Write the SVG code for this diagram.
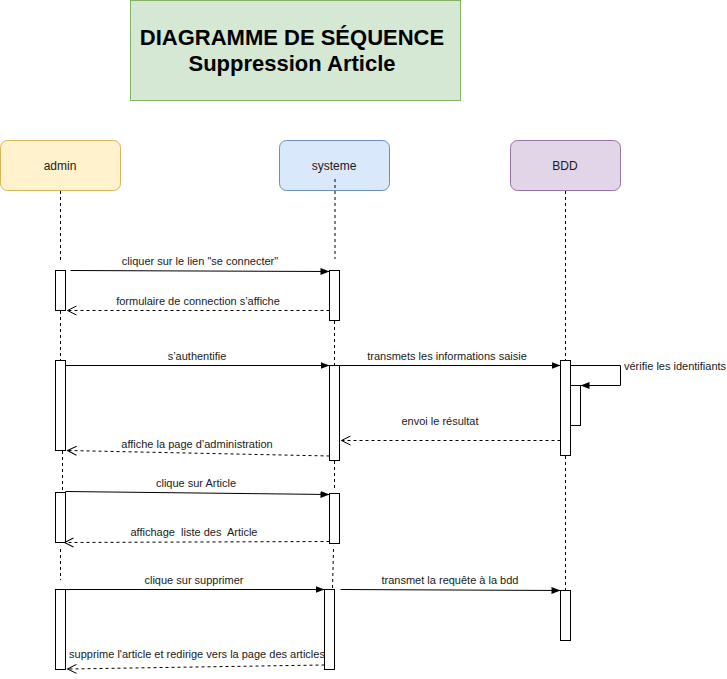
<svg xmlns="http://www.w3.org/2000/svg" width="727" height="679" viewBox="0 0 727 679">
<defs>
<marker id="fill" markerWidth="10" markerHeight="8" refX="9" refY="4" orient="auto" markerUnits="userSpaceOnUse">
<path d="M0,0.5 L9,4 L0,7.5 Z" fill="#000"/>
</marker>
<marker id="open" markerWidth="12" markerHeight="12" refX="10" refY="6" orient="auto" markerUnits="userSpaceOnUse">
<path d="M1,1.5 L10,6 L1,10.5" fill="none" stroke="#000" stroke-width="1"/>
</marker>
</defs>
<style>
.t{font-family:"Liberation Sans",Arial,sans-serif;font-size:11px;fill:#1a1a1a;text-anchor:middle}
.h{font-family:"Liberation Sans",Arial,sans-serif;font-size:12px;fill:#1a1a1a;text-anchor:middle}
.life{stroke:#000;stroke-dasharray:3 3;fill:none}
.act{fill:#fff;stroke:#000;stroke-width:1}
.msg{stroke:#000;fill:none;stroke-width:1}
.ret{stroke:#000;fill:none;stroke-dasharray:3 3;stroke-width:1}
</style>
<rect width="727" height="679" fill="#fff"/>
<g id="title">
<rect x="130.5" y="0.5" width="330" height="100" fill="#d5e8d4" stroke="#82b366"/>
<text x="292" y="45" font-family="Liberation Sans,Arial,sans-serif" font-size="22" font-weight="bold" text-anchor="middle" fill="#000">DIAGRAMME DE SÉQUENCE</text>
<text x="292" y="71" font-family="Liberation Sans,Arial,sans-serif" font-size="22" font-weight="bold" text-anchor="middle" fill="#000">Suppression Article</text>
</g>
<g id="admin">
<rect x="0.5" y="140.5" width="120" height="50" rx="7" fill="#fff2cc" stroke="#d6b656"/>
<text class="h" x="60" y="170">admin</text>
<path class="life" d="M60.5,191 V261 M60.5,311 V360 M62.5,451 V492 M60.5,549 V580"/>
<rect class="act" x="55.5" y="270.5" width="10" height="40"/>
<rect class="act" x="55.5" y="360.5" width="10" height="90"/>
<rect class="act" x="55.5" y="492.5" width="10" height="50"/>
<rect class="act" x="55.5" y="589.5" width="10" height="80"/>
</g>
<g id="systeme">
<rect x="279.5" y="140.5" width="110" height="50" rx="7" fill="#dae8fc" stroke="#6c8ebf"/>
<text class="h" x="334" y="170">systeme</text>
<path class="life" d="M335,179 V259 M334.5,321 V365 M334.5,461 V488 M333.5,549 L332.5,589"/>
<rect class="act" x="329.5" y="270.5" width="10" height="50"/>
<rect class="act" x="329.5" y="365.5" width="10" height="95"/>
<rect class="act" x="329.5" y="493.5" width="10" height="50"/>
<rect class="act" x="324.5" y="589.5" width="10" height="80"/>
</g>
<g id="BDD">
<rect x="510.5" y="140.5" width="110" height="50" rx="7" fill="#e1d5e7" stroke="#9673a6"/>
<text class="h" x="565" y="170">BDD</text>
<path class="life" d="M565.5,191 V360 M565.5,456 V590"/>
<rect class="act" x="560.5" y="360.5" width="10" height="95"/>
<rect class="act" x="570.5" y="385.5" width="10" height="40"/>
<rect class="act" x="560.5" y="590.5" width="10" height="50"/>
</g>
<g id="connectors">
<path class="msg" d="M70.5,270.5 L329.5,271.5" marker-end="url(#fill)"/>
<text class="t" x="200" y="265">cliquer sur le lien "se connecter"</text>
<path class="ret" d="M329.5,310.5 L67.5,310.5" marker-end="url(#open)"/>
<text class="t" x="198" y="305">formulaire de connection s’affiche</text>
<path class="msg" d="M65.5,365.5 L329.5,365.5" marker-end="url(#fill)"/>
<text class="t" x="197" y="360">s’authentifie</text>
<path class="msg" d="M339.5,365.5 L560.5,365.5" marker-end="url(#fill)"/>
<text class="t" x="447" y="360">transmets les informations saisie</text>
<path class="msg" d="M570.5,365.5 H620.5 V385.5 H580.5" marker-end="url(#fill)"/>
<text class="t" x="624" y="370" style="text-anchor:start">vérifie les identifiants</text>
<path class="ret" d="M560.5,440.5 L341.5,440.5" marker-end="url(#open)"/>
<text class="t" x="440" y="425">envoi le résultat</text>
<path class="ret" d="M329.5,456 L67.5,450.5" marker-end="url(#open)"/>
<text class="t" x="197" y="448">affiche la page d’administration</text>
<path class="msg" d="M65.5,491.5 L329.5,494.5" marker-end="url(#fill)"/>
<text class="t" x="196" y="487">clique sur Article</text>
<path class="ret" d="M329.5,541.5 L64.5,542.5" marker-end="url(#open)"/>
<text class="t" x="194" y="536" xml:space="preserve">affichage  liste des  Article</text>
<path class="msg" d="M65.5,589.5 L324.5,589.5" marker-end="url(#fill)"/>
<text class="t" x="194" y="584">clique sur supprimer</text>
<path class="msg" d="M340.5,589.5 L560.5,590.5" marker-end="url(#fill)"/>
<text class="t" x="450" y="584">transmet la requête à la bdd</text>
<path class="ret" d="M324.5,665 L67.5,669" marker-end="url(#open)"/>
<text class="t" x="197" y="658">supprime l'article et redirige vers la page des articles</text>
</g>
</svg>
